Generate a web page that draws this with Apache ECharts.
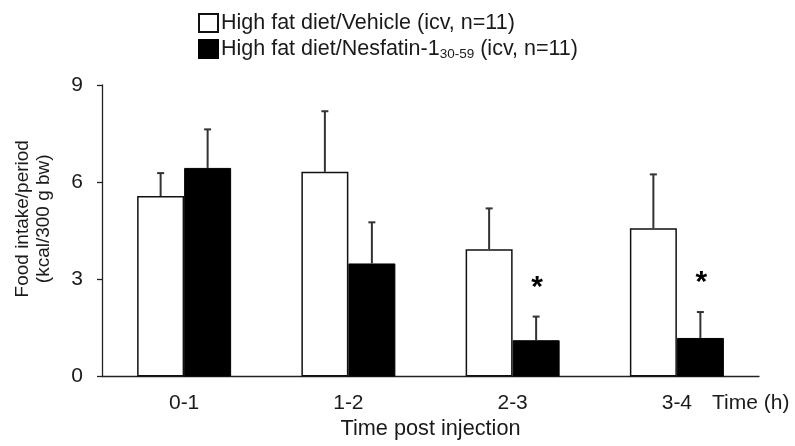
<!DOCTYPE html>
<html>
<head>
<meta charset="utf-8">
<script src="https://cdn.jsdelivr.net/npm/echarts@6/dist/echarts.min.js"></script>
<style>
  html, body { margin: 0; padding: 0; background: #fff; }
  #chart { width: 795px; height: 446px; }
</style>
</head>
<body>
<div id="chart"></div>
<script>
// Food intake per hourly period after icv injection (mean + SEM)
const categories = ['0-1', '1-2', '2-3', '3-4'];
const vehicleMean = [5.57, 6.32, 3.93, 4.58];
const vehicleSem = [0.71, 1.87, 1.26, 1.66];
const nesfatinMean = [6.44, 3.49, 1.12, 1.19];
const nesfatinSem = [1.19, 1.27, 0.73, 0.80];
const nesfatinSig = ['', '', '*', '*'];
const yMin = 0, yMax = 9, yStep = 3;

const seriesNames = ['High fat diet/Vehicle (icv, n=11)', 'High fat diet/Nesfatin-1 30-59 (icv, n=11)'];
const legendRich = {
  [seriesNames[0]]: '{t|High fat diet/Vehicle (icv, n=11)}',
  [seriesNames[1]]: '{t|High fat diet/Nesfatin-1}{s|30-59}{t| (icv, n=11)}'
};

const FONT = 'Liberation Sans, Arial, Helvetica, sans-serif';
const INK = '#1a1a1a';
const BAR_W = 47;

function errorSeries(means, sems, sig, side) {
  return {
    type: 'custom',
    silent: true,
    z: 5,
    data: means.map((m, i) => [i, m, sems[i], sig ? sig[i] : '']),
    renderItem: function (params, api) {
      const x0 = api.coord([api.value(0), api.value(1)]);
      const top = api.coord([api.value(0), api.value(1) + api.value(2)]);
      const cx = x0[0] + side * BAR_W / 2;
      const children = [
        { type: 'line', shape: { x1: cx, y1: x0[1], x2: cx, y2: top[1] },
          style: { stroke: '#333', lineWidth: 2 } },
        { type: 'line', shape: { x1: cx - 3.5, y1: top[1], x2: cx + 3.5, y2: top[1] },
          style: { stroke: '#333', lineWidth: 2 } }
      ];
      const mark = api.value(3);
      if (mark && mark !== '-') {
        children.push({ type: 'text',
          style: { text: mark, x: cx + 1, y: top[1] - 29, align: 'center', verticalAlign: 'middle',
                   fontSize: 30, fontWeight: 'bold', fontFamily: FONT, fill: '#000' } });
      }
      return { type: 'group', children: children };
    }
  };
}

const chart = echarts.init(document.getElementById('chart'), null, { renderer: 'canvas' });
chart.setOption({
  animation: false,
  backgroundColor: '#fff',
  grid: { left: 102, right: 36, top: 85, bottom: 69.5, containLabel: false },
  legend: {
    orient: 'vertical',
    left: 193, top: 7,
    padding: 5,
    itemWidth: 19, itemHeight: 18, itemGap: 4,
    icon: 'rect',
    selectedMode: false,
    data: seriesNames,
    formatter: name => legendRich[name],
    textStyle: {
      color: INK, fontFamily: FONT, fontSize: 21.5,
      padding: [0, 0, 0, -2],
      rich: {
        t: { fontSize: 21.5, fontFamily: FONT, color: INK, lineHeight: 24, verticalAlign: 'middle' },
        s: { fontSize: 13.5, fontFamily: FONT, color: INK, lineHeight: 12, verticalAlign: 'bottom' }
      }
    }
  },
  xAxis: {
    type: 'category',
    data: categories,
    boundaryGap: true,
    name: 'Time post injection',
    nameLocation: 'middle',
    nameGap: 40,
    nameTextStyle: { color: INK, fontFamily: FONT, fontSize: 21.7, verticalAlign: 'top' },
    axisLine: { lineStyle: { color: '#222', width: 1.3 } },
    axisTick: { inside: false, length: 6, lineStyle: { color: '#222', width: 1.3 } },
    axisLabel: { color: INK, fontFamily: FONT, fontSize: 21, margin: 16 },
    splitLine: { show: false }
  },
  yAxis: {
    type: 'value',
    min: yMin, max: yMax, interval: yStep,
    name: 'Food intake/period\n(kcal/300 g bw)',
    nameLocation: 'middle',
    nameRotate: 90,
    nameGap: 48,
    nameTextStyle: { color: INK, fontFamily: FONT, fontSize: 19, lineHeight: 21, padding: [0, 0, 0, 24] },
    axisLine: { show: true, lineStyle: { color: '#222', width: 1.3 } },
    axisTick: { show: true, inside: false, length: 5, lineStyle: { color: '#222', width: 1.3 } },
    axisLabel: { color: INK, fontFamily: FONT, fontSize: 21, margin: 19 },
    splitLine: { show: false }
  },
  graphic: [{
    type: 'text',
    left: 712, top: 393,
    style: { text: 'Time (h)', fontSize: 21, fontFamily: FONT, fill: INK }
  }],
  series: [
    {
      name: seriesNames[0],
      type: 'bar',
      data: vehicleMean,
      barWidth: BAR_W,
      barGap: '0%',
      itemStyle: { color: '#fff', borderColor: '#111', borderWidth: 1.5 }
    },
    {
      name: seriesNames[1],
      type: 'bar',
      data: nesfatinMean,
      barWidth: BAR_W,
      barGap: '0%',
      itemStyle: { color: '#000', borderColor: '#000', borderWidth: 1 }
    },
    errorSeries(vehicleMean, vehicleSem, null, -1),
    errorSeries(nesfatinMean, nesfatinSem, nesfatinSig, 1)
  ]
});
</script>
</body>
</html>
